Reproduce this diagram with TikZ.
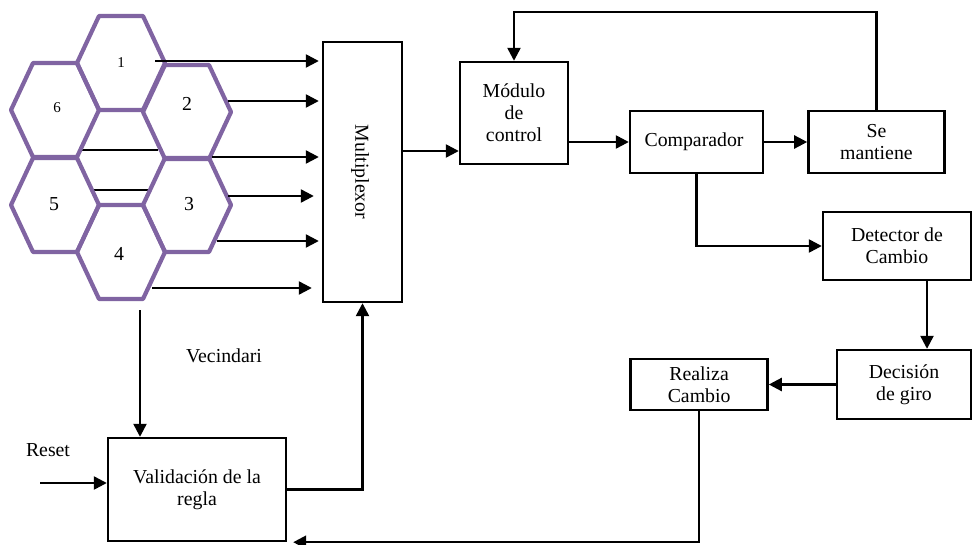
\documentclass[tikz,border=0pt]{standalone}
\usepackage{fontspec}
\setmainfont{Liberation Serif}
\usetikzlibrary{positioning, arrows.meta, calc}
\definecolor{hexpurple}{RGB}{128,100,162}
\tikzset{
  block/.style={
    rectangle, draw=black, fill=white,
    line width=2.4pt, align=center, inner sep=0pt
  },
  cell/.style={draw=hexpurple, line width=4.2pt, line join=round},
  digit/.style={inner sep=0pt},
  wire/.style={line width=2.2pt},
  arrow/.style={line width=2.4pt, -{Triangle[length=13pt,width=13pt]}}
}

\begin{document}
\begin{tikzpicture}[x=1pt, y=-1pt, font=\fontsize{19.8}{22}\selectfont]
\useasboundingbox (0,0) rectangle (973,545);

% ==============================================================================
% Neighbourhood (hexagons)
% ==============================================================================
\draw[wire] (82,150) -- (158,150);
\draw[wire] (93,190) -- (148,190);

\foreach \cx/\cy in {121/63, 187/112, 187/205, 121/252, 55/205, 55/110}{
  \draw[cell] (\cx-44,\cy) -- (\cx-22,\cy-47) -- (\cx+22,\cy-47)
    -- (\cx+44,\cy) -- (\cx+22,\cy+47) -- (\cx-22,\cy+47) -- cycle;
}

\node[digit, font=\fontsize{15}{17}\selectfont] (h1) at (121,63) {1};
\node[digit] (h2) at (187,104) {2};
\node[digit] (h3) at (189,204) {3};
\node[digit] (h4) at (119,254) {4};
\node[digit] (h5) at (54,204) {5};
\node[digit, font=\fontsize{15}{17}\selectfont] (h6) at (57,108) {6};

% ==============================================================================
% Blocks
% ==============================================================================
\node[block, minimum width=79, minimum height=260] (mux) at (362.5,172) {
  \rotatebox{-90}{Multiplexor}
};

\node[block, minimum width=108, minimum height=102] (modulo) at (514,113) {
  Módulo\\de\\control
};

\node[block, minimum width=133, minimum height=62] (comp) at (696.5,142) {
  Comparador
};

\node[block, minimum width=136, minimum height=62, right=43 of comp] (mant) {
  Se\\mantiene
};

\node[block, minimum width=148, minimum height=68] (detec) at (897,246) {
  Detector de\\Cambio
};

\node[block, minimum width=134, minimum height=69] (decis) at (904,384.5) {
  Decisión\\de giro
};

\node[block, minimum width=137, minimum height=51, left=67 of decis] (realiza) {
  Realiza\\Cambio
};

\node[block, minimum width=178, minimum height=103] (valid) at (197,489.5) {
  Validación de la\\regla
};

\node (vecin) at (224,356) {Vecindari};
\node (reset) at (48,450) {Reset};

% ==============================================================================
% Arrows
% ==============================================================================
\foreach \i/\xs/\y/\gap in {1/155/61/3, 2/228/101/3, 3/212/157/3, 4/228/196/8, 5/217/241/3, 6/152/288/10}{
  \coordinate (o\i) at (\xs,\y);
  \draw[arrow, shorten >=\gap] (o\i) -- (o\i -| mux.west);
}

\draw[arrow] (mux.east |- 0,151) -- (modulo.west |- 0,151);
\draw[arrow] (modulo.east |- comp.west) -- (comp.west);
\draw[arrow] (comp.east) -- (mant.west);
\draw[arrow] (mant.north) -- ++(0,-98) -| (modulo.north);
\draw[arrow] (comp.south) |- (detec.west);
\draw[arrow] ([xshift=30pt]detec.south) -- ([xshift=30pt]detec.south |- decis.north);
\draw[arrow] (decis.west) -- (realiza.east);
\draw[arrow] (realiza.south) |- ([xshift=6pt]valid.south east);
\draw[arrow] (valid.east) -| (mux.south);

\coordinate (vtop) at (140,310);
\draw[arrow] (vtop) -- (vtop |- valid.north);

\coordinate (rin) at (40,483);
\draw[arrow] (rin) -- (rin -| valid.west);

\end{tikzpicture}
\end{document}
